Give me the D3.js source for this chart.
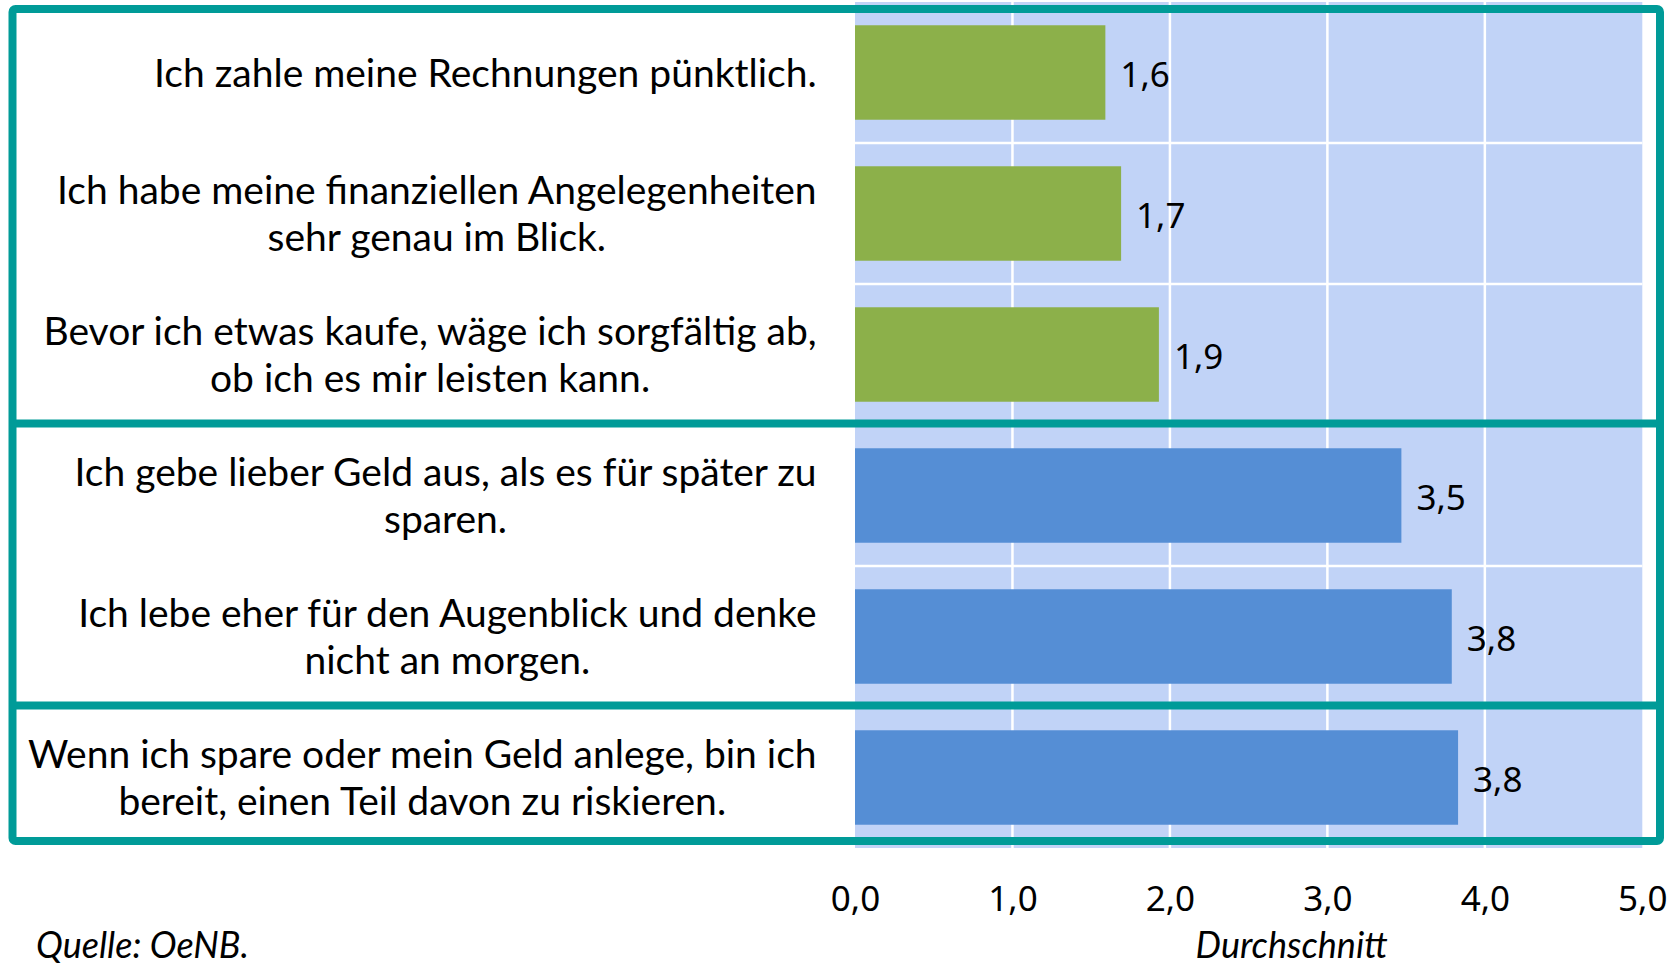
<!DOCTYPE html>
<html>
<head>
<meta charset="utf-8">
<script src="https://cdn.jsdelivr.net/npm/d3@7"></script>
<style>
  body { margin: 0; background: #fff; }
  svg { display: block; }
</style>
</head>
<body>
<div id="vis-container"></div>
<script>
// statements, one line per row of the picture
var statements = [
    ["Ich zahle meine Rechnungen pünktlich."],
    ["Ich habe meine finanziellen Angelegenheiten", "sehr genau im Blick."],
    ["Bevor ich etwas kaufe, wäge ich sorgfältig ab,", "ob ich es mir leisten kann."],
    ["Ich gebe lieber Geld aus, als es für später zu", "sparen."],
    ["Ich lebe eher für den Augenblick und denke", "nicht an morgen."],
    ["Wenn ich spare oder mein Geld anlege, bin ich", "bereit, einen Teil davon zu riskieren."]
];
var values = [1.59, 1.69, 1.93, 3.47, 3.79, 3.83];
var groups = [1, 1, 1, 2, 2, 3];
var xTicks = [0, 1, 2, 3, 4, 5];
var axisTitle = "Durchschnitt";
var source = "Quelle: OeNB.";

var groupColor = { 1: "#8cb04a", 2: "#558ed5", 3: "#558ed5" };
var teal = "#009b98";

var W = 1678, H = 966;
var margin = { top: 2, right: 35.7, bottom: 118, left: 855 };
var width  = W - margin.left - margin.right;
var height = H - margin.top - margin.bottom;

var fmt = function(v) { return d3.format(".1f")(v).replace(".", ","); };

var svg = d3.select("#vis-container")
    .append("svg")
    .attr("width", W)
    .attr("height", H);

var idx = d3.range(values.length);

var xScale = d3.scaleLinear().domain([0, 5]).range([0, width]);
var yScale = d3.scaleBand()
    .domain(idx)
    .range([0, height])
    .paddingInner(0.33)
    .paddingOuter(0.165);

var step = yScale.step();
var boundary = function(i) { return yScale(i) - yScale.paddingInner() * step / 2; };

var plot = svg.append("g")
    .attr("transform", "translate(" + margin.left + "," + margin.top + ")");

// plot background
plot.append("rect")
    .attr("width", width)
    .attr("height", height)
    .attr("fill", "#c1d3f7");

// vertical gridlines
plot.selectAll(".vgrid")
    .data(xTicks.slice(1, -1))
    .enter().append("line")
    .attr("x1", function(d) { return xScale(d); })
    .attr("x2", function(d) { return xScale(d); })
    .attr("y1", 0)
    .attr("y2", height)
    .attr("stroke", "#fff")
    .attr("stroke-width", 2.5);

// horizontal gridlines between rows
plot.selectAll(".hgrid")
    .data(idx.slice(1))
    .enter().append("line")
    .attr("x1", 0)
    .attr("x2", width)
    .attr("y1", function(d) { return boundary(d); })
    .attr("y2", function(d) { return boundary(d); })
    .attr("stroke", "#fff")
    .attr("stroke-width", 2.5);

// bars
plot.selectAll(".bar")
    .data(values)
    .enter().append("rect")
    .attr("class", "bar")
    .attr("x", 0)
    .attr("y", function(d, i) { return yScale(i); })
    .attr("width", function(d) { return xScale(d); })
    .attr("height", yScale.bandwidth())
    .attr("fill", function(d, i) { return groupColor[groups[i]]; });

// value labels
plot.selectAll(".val")
    .data(values)
    .enter().append("text")
    .attr("x", function(d) { return xScale(d) + 15; })
    .attr("y", function(d, i) { return yScale(i) + yScale.bandwidth() / 2 + 14; })
    .attr("font-family", "'Noto Sans', sans-serif")
    .attr("font-size", 35)
    .attr("fill", "#000")
    .text(fmt);

// x axis tick labels
var xAxis = d3.axisBottom(xScale)
    .tickValues(xTicks)
    .tickSize(0)
    .tickPadding(38)
    .tickFormat(fmt);

var axisG = plot.append("g")
    .attr("transform", "translate(0," + height + ")")
    .call(xAxis);
axisG.select(".domain").remove();
axisG.selectAll("text")
    .attr("font-family", "'Noto Sans', sans-serif")
    .attr("font-size", 35)
    .attr("fill", "#000");

// axis title
svg.append("text")
    .attr("x", margin.left + width / 2 + 43)
    .attr("y", 958)
    .attr("text-anchor", "middle")
    .attr("font-family", "Lato, sans-serif")
    .attr("font-style", "italic")
    .attr("font-size", 36)
    .text(axisTitle);

// source
svg.append("text")
    .attr("x", 36)
    .attr("y", 958)
    .attr("font-family", "Lato, sans-serif")
    .attr("font-style", "italic")
    .attr("font-size", 36)
    .text(source);

// category labels: lines centered in a block, block right aligned
var labelRight = 816.6;
var lineGap = 47;
var labelG = svg.append("g")
    .attr("font-family", "Lato, sans-serif")
    .attr("font-size", 39)
    .attr("fill", "#000");

var blocks = labelG.selectAll(".lbl")
    .data(statements)
    .enter().append("g")
    .attr("class", "lbl");

blocks.each(function(lines, i) {
    var g = d3.select(this);
    var cy = margin.top + yScale(i) + yScale.bandwidth() / 2;
    lines.forEach(function(t, k) {
        g.append("text")
            .attr("text-anchor", "middle")
            .attr("y", cy + (k - (lines.length - 1) / 2) * lineGap + 14)
            .text(t);
    });
});

// squeeze labels so the widest line fits like the original
var widest = 0;
labelG.selectAll("text").each(function() {
    widest = Math.max(widest, this.getComputedTextLength());
});
var fit = Math.min(1, 793 / widest);

blocks.each(function() {
    var g = d3.select(this);
    var maxW = 0;
    g.selectAll("text").each(function() {
        maxW = Math.max(maxW, this.getComputedTextLength());
    });
    var cx = labelRight - maxW * fit / 2;
    g.attr("transform", "translate(" + cx + ",0) scale(" + fit + ",1)");
});

// teal frames
var frameTop = margin.top + 7;
var frameBottom = margin.top + height - 7;
svg.append("rect")
    .attr("x", 12.5)
    .attr("y", frameTop)
    .attr("width", 1660 - 12.5)
    .attr("height", frameBottom - frameTop)
    .attr("rx", 3)
    .attr("fill", "none")
    .attr("stroke", teal)
    .attr("stroke-width", 8);

var separators = idx.slice(1).filter(function(i) { return groups[i] !== groups[i - 1]; });
svg.selectAll(".sep")
    .data(separators)
    .enter().append("line")
    .attr("x1", 12.5)
    .attr("x2", 1660)
    .attr("y1", function(d) { return margin.top + boundary(d) - 1.5; })
    .attr("y2", function(d) { return margin.top + boundary(d) - 1.5; })
    .attr("stroke", teal)
    .attr("stroke-width", 8);
</script>
</body>
</html>
